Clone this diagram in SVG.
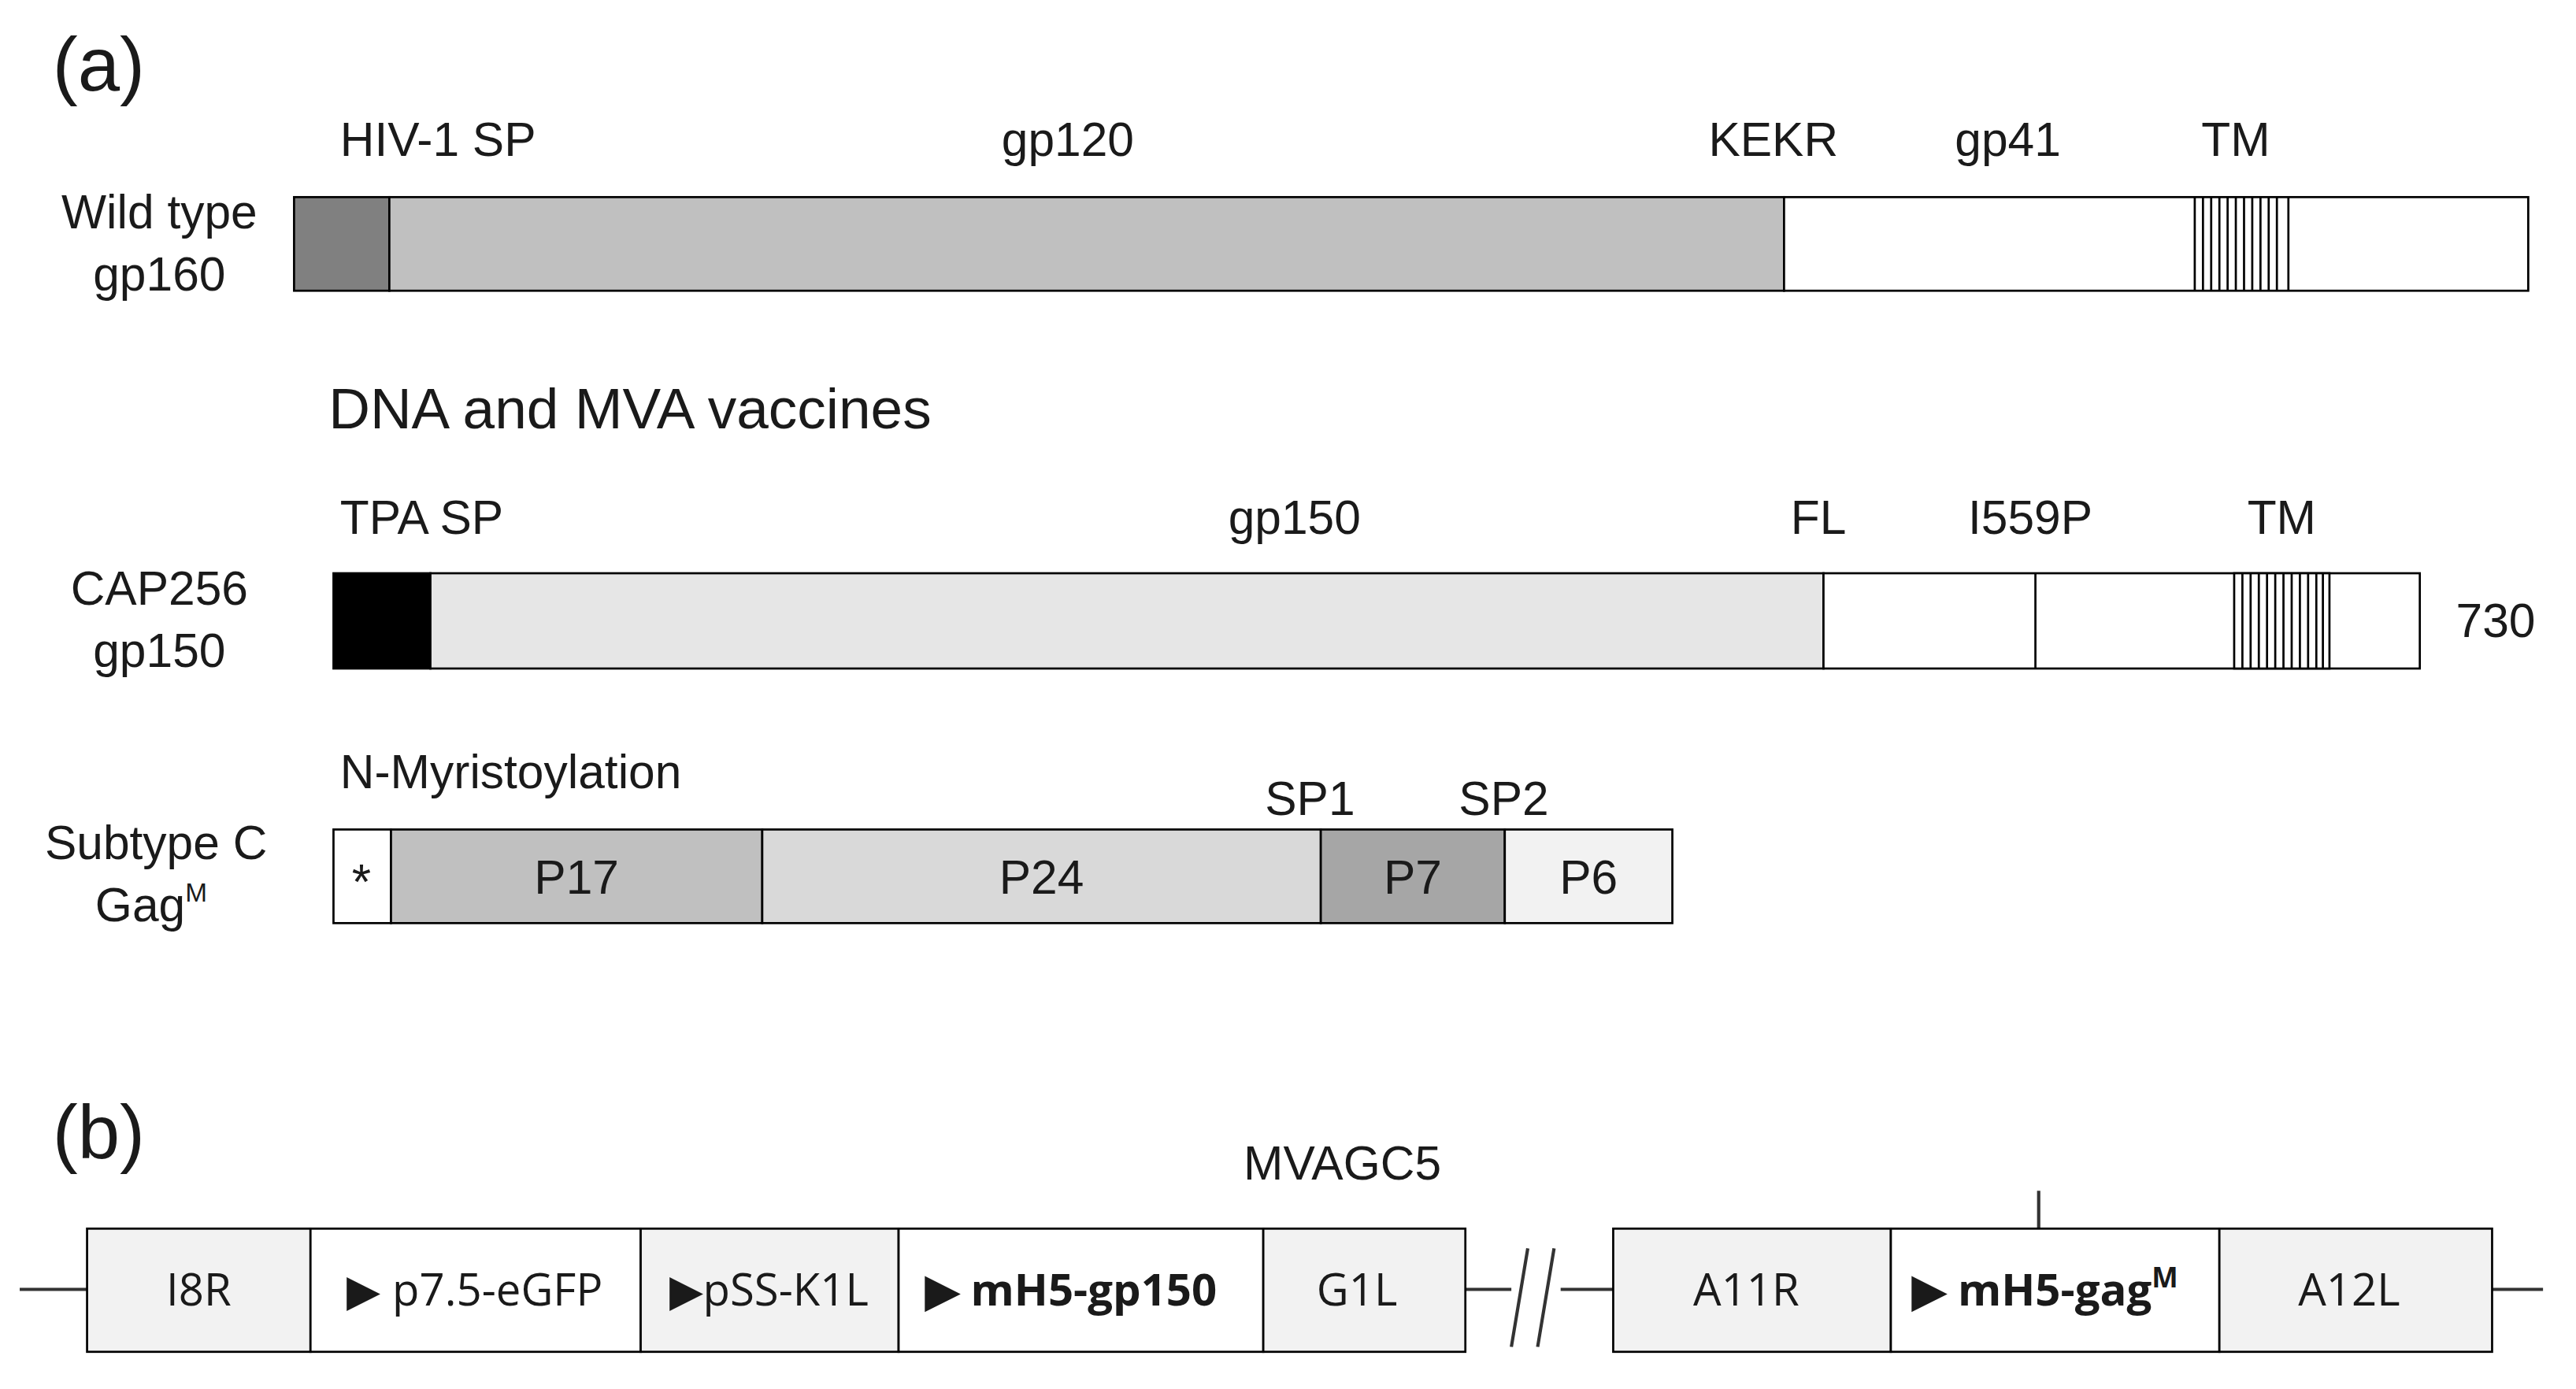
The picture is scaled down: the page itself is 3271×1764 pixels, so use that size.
<svg xmlns="http://www.w3.org/2000/svg" width="3271" height="1764" viewBox="0 0 3271 1764">
<style>
text{font-family:"Liberation Sans",Arial,sans-serif;fill:#1a1a1a}
.l{font-size:29px}
.c{text-anchor:middle}
.big{font-size:46px}
.b{font-size:27px;font-family:"Open Sans","Liberation Sans",sans-serif}
.bold{font-weight:bold}
rect{stroke:#000;stroke-width:1.3}
.ln{stroke:#333;stroke-width:2;fill:none}
.st{stroke:#000;stroke-width:1.3}
</style>
<rect x="0" y="0" width="3271" height="1764" fill="#fff" style="stroke:none"/>
<g transform="scale(2.086)">
<text class="big" x="32" y="55">(a)</text>
<g id="row1">
<text class="l c" x="97" y="139">Wild type</text>
<text class="l c" x="97" y="177">gp160</text>
<text class="l" x="207" y="95">HIV-1 SP</text>
<text class="l c" x="650" y="95">gp120</text>
<text class="l" x="1040" y="95">KEKR</text>
<text class="l" x="1190" y="95">gp41</text>
<text class="l" x="1340" y="95">TM</text>
<rect x="179" y="120" width="58" height="57" fill="#808080"/>
<rect x="237" y="120" width="849" height="57" fill="#c0c0c0"/>
<rect x="1086" y="120" width="453" height="57" fill="#fff"/>
<g class="st"><path d="M1336 120v57M1341 120v57M1346 120v57M1351 120v57M1356 120v57M1361 120v57M1366 120v57M1371 120v57M1376 120v57M1381 120v57M1386 120v57M1393 120v57"/></g>
</g>
<text x="200" y="261" style="font-size:35px">DNA and MVA vaccines</text>
<g id="row2">
<text class="l c" x="97" y="368">CAP256</text>
<text class="l c" x="97" y="406">gp150</text>
<text class="l" x="207" y="325">TPA SP</text>
<text class="l c" x="788" y="325">gp150</text>
<text class="l" x="1090" y="325">FL</text>
<text class="l" x="1198" y="325">I559P</text>
<text class="l" x="1368" y="325">TM</text>
<text class="l" x="1495" y="388">730</text>
<rect x="203" y="349" width="59" height="58" fill="#000"/>
<rect x="262" y="349" width="848" height="58" fill="#e6e6e6"/>
<rect x="1110" y="349" width="363" height="58" fill="#fff"/>
<path d="M1239 349v58" class="st"/>
<rect x="1360" y="349" width="58" height="58" fill="#fff"/>
<g class="st"><path d="M1365 349v58M1370 349v58M1375 349v58M1380 349v58M1385 349v58M1390 349v58M1395 349v58M1400 349v58M1405 349v58M1410 349v58M1414 349v58"/></g>
</g>
<g id="row3">
<text class="l c" x="95" y="523">Subtype C</text>
<text class="l c" x="92" y="561">Gag<tspan style="font-size:16px" dy="-12">M</tspan></text>
<text class="l" x="207" y="480">N-Myristoylation</text>
<text class="l" x="770" y="496">SP1</text>
<text class="l" x="888" y="496">SP2</text>
<rect x="203" y="505" width="35" height="57" fill="#fff"/>
<rect x="238" y="505" width="226" height="57" fill="#c0c0c0"/>
<rect x="464" y="505" width="340" height="57" fill="#d9d9d9"/>
<rect x="804" y="505" width="112" height="57" fill="#a6a6a6"/>
<rect x="916" y="505" width="102" height="57" fill="#f2f2f2"/>
<text class="c" x="220" y="547" style="font-size:30px">*</text>
<text class="l c" x="351" y="544">P17</text>
<text class="l c" x="634" y="544">P24</text>
<text class="l c" x="860" y="544">P7</text>
<text class="l c" x="967" y="544">P6</text>
</g>
<text class="big" x="32" y="705">(b)</text>
<text class="l" x="757" y="718">MVAGC5</text>
<g id="connectors">
<path class="ln" d="M12 785h41M892 785h28M950 785h32M1517 785h31M1241 725v23"/>
<path class="ln" d="M930 760l-10 60M946 760l-10 60"/>
</g>
<g id="I8R"><rect x="53" y="748" width="136" height="75" fill="#f2f2f2"/><text class="b c" x="121" y="795">I8R</text></g>
<g id="p75"><rect x="189" y="748" width="201" height="75" fill="#fff"/><text class="b c" x="289" y="795">▶ p7.5-eGFP</text></g>
<g id="pSS"><rect x="390" y="748" width="157" height="75" fill="#f2f2f2"/><text class="b c" x="468" y="795">▶pSS-K1L</text></g>
<g id="gp150"><rect x="547" y="748" width="222" height="75" fill="#fff"/><text class="b c bold" x="652" y="795">▶ mH5-gp150</text></g>
<g id="G1L"><rect x="769" y="748" width="123" height="75" fill="#f2f2f2"/><text class="b c" x="826" y="795">G1L</text></g>
<g id="A11R"><rect x="982" y="748" width="169" height="75" fill="#f2f2f2"/><text class="b c" x="1063" y="795">A11R</text></g>
<g id="gag"><rect x="1151" y="748" width="200" height="75" fill="#fff"/><text class="b c bold" x="1245" y="795">▶ mH5-gag<tspan style="font-size:17px" dy="-11">M</tspan></text></g>
<g id="A12L"><rect x="1351" y="748" width="166" height="75" fill="#f2f2f2"/><text class="b c" x="1430" y="795">A12L</text></g>
</g>
</svg>
